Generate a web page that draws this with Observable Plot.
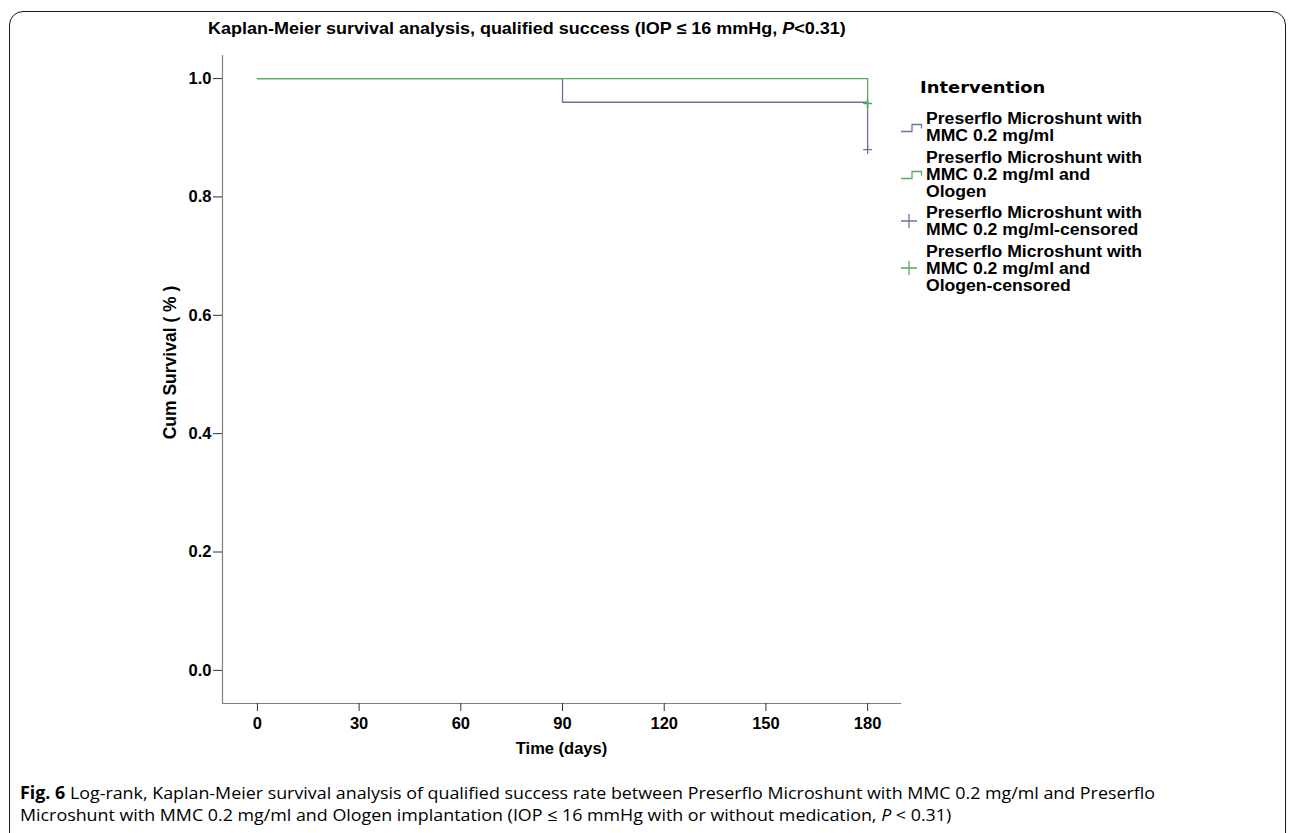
<!DOCTYPE html>
<html><head><meta charset="utf-8">
<script src="https://cdn.jsdelivr.net/npm/d3@7"></script>
<script src="https://cdn.jsdelivr.net/npm/@observablehq/plot@0.6"></script>
<style>
body{margin:0;background:#fff;width:1290px;height:833px;overflow:hidden;position:relative;font-family:"Liberation Sans",Arial,sans-serif;color:#000;}
#frame{position:absolute;left:9px;top:11px;width:1277px;height:850px;border:1.6px solid #1a1a1a;border-radius:14px;box-sizing:border-box;}
#chart{position:absolute;left:0;top:0;}
#title{position:absolute;left:208px;top:18px;font-weight:bold;font-size:16.5px;line-height:20px;transform:scaleX(1.09);transform-origin:left center;white-space:nowrap;}
#legtitle{position:absolute;left:920px;top:79px;font-family:"DejaVu Sans";font-weight:bold;font-size:16px;line-height:18px;transform:scaleX(1.12);transform-origin:left center;white-space:nowrap;}
#legend{position:absolute;left:901px;top:110px;display:flex;flex-direction:column;gap:4.5px;}
.item{display:flex;align-items:center;}
.item svg{width:25px;flex:none;}
.item .lab{font-weight:bold;font-size:16px;line-height:17px;transform:scaleX(1.1);transform-origin:left center;white-space:nowrap;}
#caption{position:absolute;left:20px;top:782px;font-family:"Open Sans";font-size:17px;line-height:22px;white-space:nowrap;}
#caption div{transform-origin:left center;}
</style></head>
<body>
<div id="frame"></div>
<div id="chart"></div>
<div id="title"></div>
<div id="legtitle"></div>
<div id="legend"></div>
<div id="caption"></div>
<script>
// ---- data ----
const timesMMC = [0, 90, 180, 180];
const survMMC = [1.0, 0.96, 0.96, 0.88];
const timesOlogen = [0, 180, 180];
const survOlogen = [1.0, 1.0, 0.958];
const censorTimesMMC = [180];
const censorSurvMMC = [0.88];
const censorTimesOlogen = [180];
const censorSurvOlogen = [0.958];
const xTicks = [0, 30, 60, 90, 120, 150, 180];
const yTicks = [0.0, 0.2, 0.4, 0.6, 0.8, 1.0];
const legendTitle = "Intervention";
const legendLabels = [
  "Preserflo Microshunt with\nMMC 0.2 mg/ml",
  "Preserflo Microshunt with\nMMC 0.2 mg/ml and\nOlogen",
  "Preserflo Microshunt with\nMMC 0.2 mg/ml-censored",
  "Preserflo Microshunt with\nMMC 0.2 mg/ml and\nOlogen-censored"
];
const legendKinds = ["step", "step", "plus", "plus"];
const blue = "#6d7499";
const green = "#57ab67";
const legendColors = [blue, green, blue, green];

const mmc = timesMMC.map((t, i) => ({t, s: survMMC[i]}));
const olo = timesOlogen.map((t, i) => ({t, s: survOlogen[i]}));
const cMMC = censorTimesMMC.map((t, i) => ({t, s: censorSurvMMC[i]}));
const cOlo = censorTimesOlogen.map((t, i) => ({t, s: censorSurvOlogen[i]}));

const chart = Plot.plot({
  width: 1290, height: 780,
  marginLeft: 222, marginRight: 390, marginTop: 55, marginBottom: 77,
  x: {domain: [-10.3, 189.7]},
  y: {domain: [-0.056, 1.039]},
  style: {fontFamily: "Liberation Sans, Arial, sans-serif", fontSize: "16.5px", fontWeight: "bold", color: "#000", background: "transparent", overflow: "visible"},
  marks: [
    Plot.frame({anchor: "left", stroke: "#808080", strokeWidth: 1.2}),
    Plot.frame({anchor: "bottom", stroke: "#808080", strokeWidth: 1.2}),
    Plot.axisX({ticks: xTicks, tickSize: 8, tickPadding: 6, stroke: "#333", fontSize: 16.5, fontWeight: "bold", label: "Time (days)", labelAnchor: "center", labelArrow: "none", labelOffset: 50}),
    Plot.axisY({ticks: yTicks, tickFormat: d => d.toFixed(1), tickSize: 9, tickPadding: 2, stroke: "#333", fontSize: 16.5, fontWeight: "bold", label: null}),
    Plot.text(["Cum Survival ( % )"], {frameAnchor: "left", rotate: -90, textAnchor: "middle", dx: -52, dy: -17, fontWeight: "bold", fontSize: 17.5}),
    Plot.line(mmc, {x: "t", y: "s", curve: "step-after", stroke: blue, strokeWidth: 1.3}),
    Plot.line(olo, {x: "t", y: "s", curve: "step-after", stroke: green, strokeWidth: 1.3}),
    Plot.dot(cMMC, {x: "t", y: "s", symbol: "plus", r: 3, stroke: blue, strokeWidth: 1.2}),
    Plot.dot(cOlo, {x: "t", y: "s", symbol: "plus", r: 3, stroke: green, strokeWidth: 1.6})
  ]
});
document.getElementById("chart").appendChild(chart);

// title
document.getElementById("title").innerHTML = "Kaplan-Meier survival analysis, qualified success (IOP &le; 16 mmHg, <i>P</i>&lt;0.31)";
document.getElementById("legtitle").textContent = legendTitle;

// legend
const leg = document.getElementById("legend");
legendLabels.forEach((lab, i) => {
  const it = document.createElement("div"); it.className = "item";
  const c = legendColors[i];
  const sym = legendKinds[i] === "step"
    ? `<svg height="12" viewBox="0 0 25 12"><path d="M0,10.5H11V3.5H20.5V7.5" fill="none" stroke="${c}" stroke-width="1.3"/></svg>`
    : `<svg height="16" viewBox="0 0 25 16"><path d="M0,8H16M8,1V15" fill="none" stroke="${c}" stroke-width="1.3"/></svg>`;
  it.innerHTML = sym + `<div class="lab">${lab.replace(/\n/g, "<br>")}</div>`;
  leg.appendChild(it);
});

// caption
const cap = document.getElementById("caption");
cap.innerHTML = `<div id="cl1"><b>Fig. 6</b> Log-rank, Kaplan-Meier survival analysis of qualified success rate between Preserflo Microshunt with MMC 0.2 mg/ml and Preserflo</div><div id="cl2">Microshunt with MMC 0.2 mg/ml and Ologen implantation (IOP &le; 16 mmHg with or without medication, <i>P</i> &lt; 0.31)</div>`;
const l1 = document.getElementById("cl1");
const w = l1.getBoundingClientRect().width;
const k = 1135 / w;
l1.style.transform = `scaleX(${k})`;
document.getElementById("cl2").style.transform = `scaleX(${k})`;
</script>
</body></html>
